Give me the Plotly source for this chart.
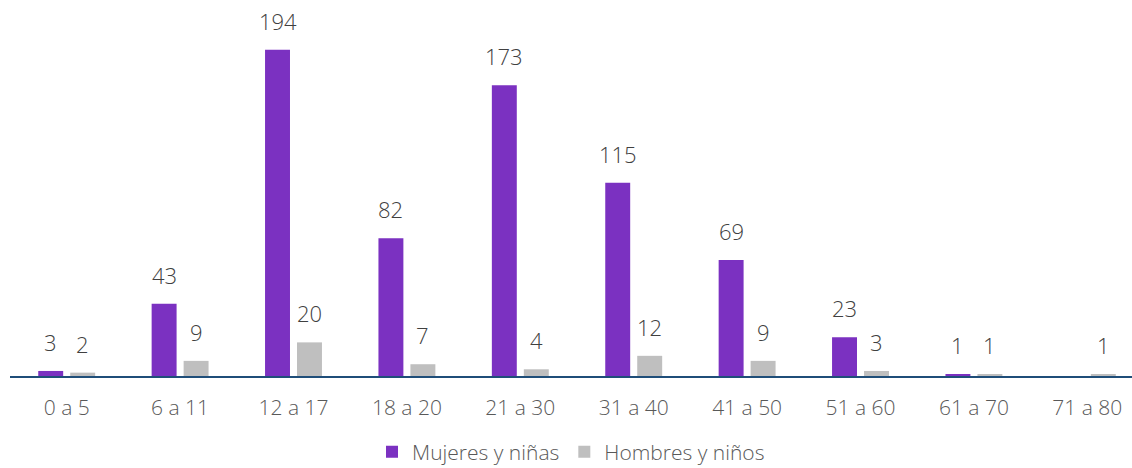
import plotly.graph_objects as go

categories = ["0 a 5", "6 a 11", "12 a 17", "18 a 20", "21 a 30",
              "31 a 40", "41 a 50", "51 a 60", "61 a 70", "71 a 80"]
mujeres = [3, 43, 194, 82, 173, 115, 69, 23, 1, 0]
hombres = [2, 9, 20, 7, 4, 12, 9, 3, 1, 1]

PURPLE = "#7B31C1"
GREY = "#BFBFBF"
FONT = "Open Sans"

fig = go.Figure()
fig.add_trace(go.Bar(x=categories, y=mujeres, name="Mujeres y niñas",
                     marker=dict(color=PURPLE, line=dict(width=0))))
fig.add_trace(go.Bar(x=categories, y=hombres, name="Hombres y niños",
                     marker=dict(color=GREY, line=dict(width=0))))

annotations = []
for vals, shift in ((mujeres, -16), (hombres, 16)):
    for c, v in zip(categories, vals):
        if v == 0:
            continue
        annotations.append(dict(x=c, y=v, xref="x", yref="y", text=str(v),
                                showarrow=False, xshift=shift, yshift=12,
                                yanchor="bottom",
                                font=dict(family=FONT, size=22, color="#404040",
                                          weight=300)))

fig.update_layout(
    width=1132, height=468,
    margin=dict(l=10, r=0, t=10, b=92),
    paper_bgcolor="white", plot_bgcolor="white",
    barmode="group", bargap=0.436, bargroupgap=0.22,
    font=dict(family=FONT, size=21, color="#595959", weight=300),
    showlegend=True,
    legend=dict(orientation="h", x=0.5, xanchor="center",
                yref="container", y=0.034, yanchor="middle",
                font=dict(family=FONT, size=21, color="#595959", weight=300),
                traceorder="normal"),
    annotations=annotations,
    xaxis=dict(type="category", range=[-0.5, 9.394], showgrid=False,
               automargin=False,
               showline=True, linecolor="#1F4E79", linewidth=2,
               ticks="outside", ticklen=12, tickcolor="rgba(0,0,0,0)",
               tickfont=dict(family=FONT, size=21, color="#595959", weight=300)),
    yaxis=dict(range=[0, 217.7], visible=False, showgrid=False, zeroline=False,
               automargin=False),
)

fig.write_html("out.html",
               post_script="document.body.style.margin='0';document.body.style.overflow='hidden';",
               config={"displayModeBar": False})
